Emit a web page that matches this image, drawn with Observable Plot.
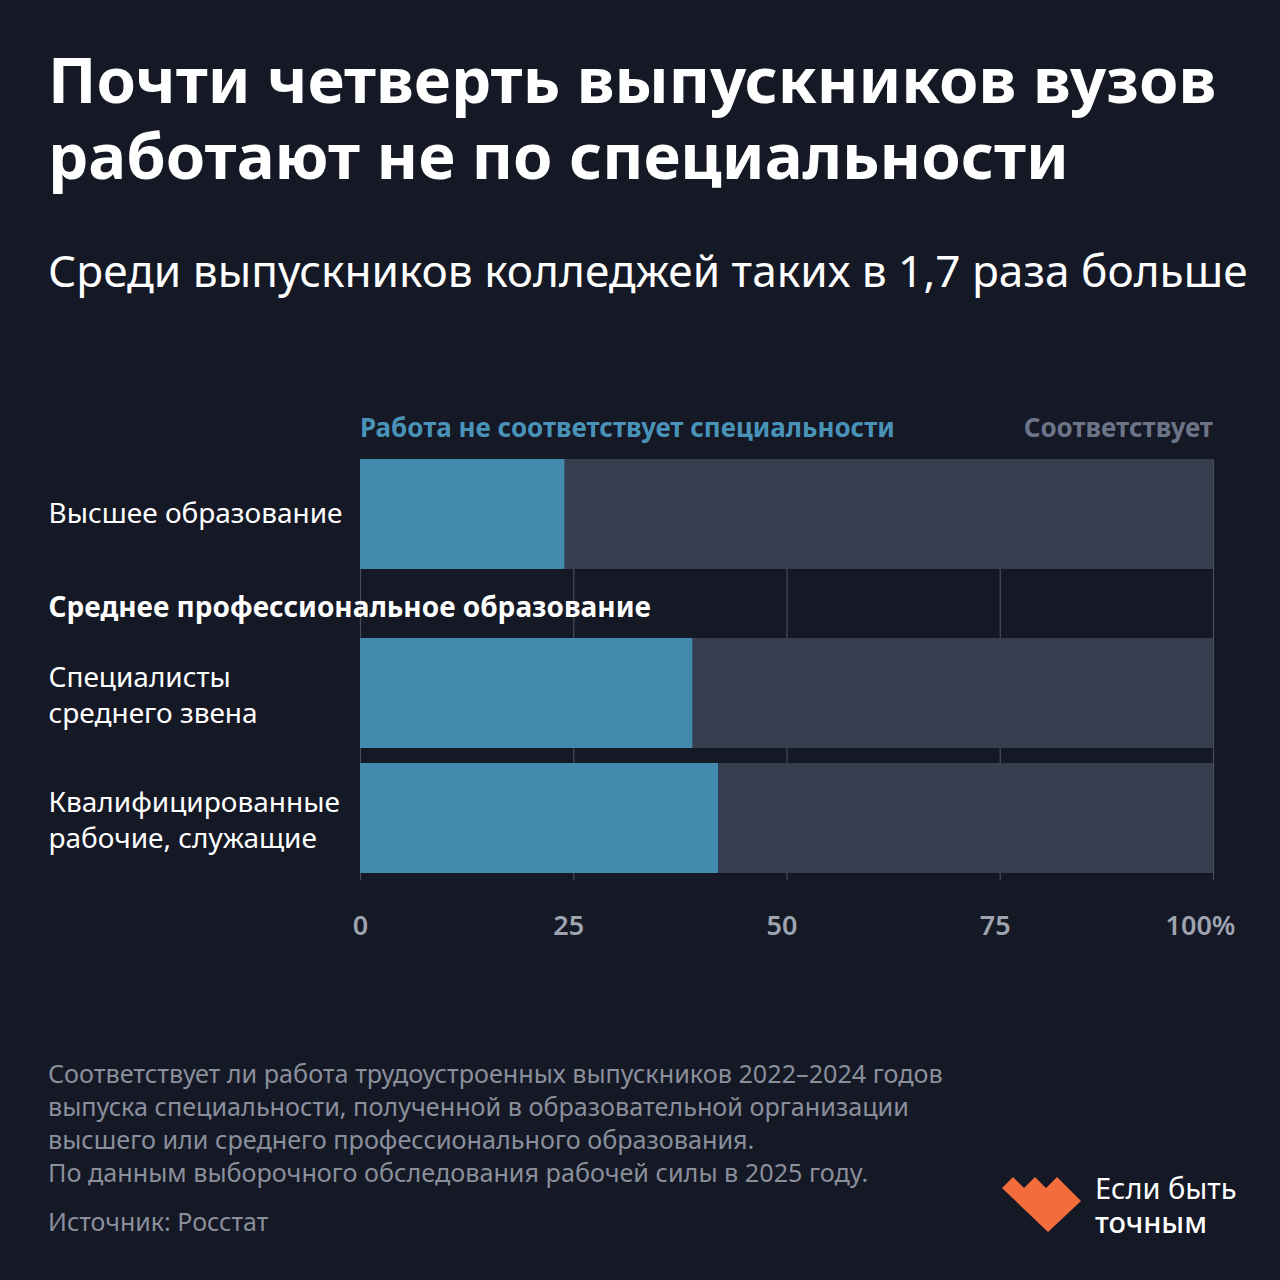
<!DOCTYPE html>
<html>
<head>
<meta charset="utf-8">
<script src="https://cdn.jsdelivr.net/npm/d3@7"></script>
<script src="https://cdn.jsdelivr.net/npm/@observablehq/plot@0.6"></script>
<style>
  html, body { margin: 0; padding: 0; background: #151825; }
  #page { position: relative; width: 1280px; height: 1280px; background: #151825; overflow: hidden;
          font-family: "Noto Sans", "Open Sans", sans-serif; color: #ffffff; }
  .abs { position: absolute; }
  #title { left: 48px; top: 41px; font-size: 63.5px; font-weight: 700; line-height: 76px; white-space: nowrap; }
  #subtitle { left: 48px; top: 240px; font-size: 44.2px; font-weight: 400; line-height: 60px; white-space: nowrap; }
  #legend { left: 360px; width: 853px; top: 409px; height: 36px; display: flex; justify-content: space-between;
            font-size: 26px; font-weight: 700; line-height: 36px; }
  #chartA { left: 0; top: 459px; }
  #chartB { left: 0; top: 638px; }
  #note { left: 48px; top: 1057px; font-size: 25.2px; line-height: 33px; color: #8a8f9c; white-space: nowrap; }
  #source { left: 48px; top: 1205px; font-size: 25px; line-height: 33px; color: #8a8f9c; }
  #logoText { left: 1095px; top: 1171px; font-size: 29px; line-height: 34px; color: #ffffff; }
  #logo { left: 0; top: 0; }
</style>
</head>
<body>
<div id="page">
  <div id="title" class="abs">Почти четверть выпускников вузов<br>работают не по специальности</div>
  <div id="subtitle" class="abs">Среди выпускников колледжей таких в 1,7 раза больше</div>
  <div id="legend" class="abs"></div>
  <div id="chartA" class="abs"></div>
  <div id="chartB" class="abs"></div>
  <div id="note" class="abs">Соответствует ли работа трудоустроенных выпускников 2022–2024 годов<br>выпуска специальности, полученной в образовательной организации<br>высшего или среднего профессионального образования.<br>По данным выборочного обследования рабочей силы в 2025 году.</div>
  <div id="source" class="abs">Источник: Росстат</div>
  <svg id="logo" class="abs" width="1280" height="1280" viewBox="0 0 1280 1280">
    <path d="M1002,1188 L1013,1177 L1024,1188 L1035,1177 L1046,1188 L1057,1177 L1081,1201 L1048,1232 Z" fill="#f26c3c"/>
  </svg>
  <div id="logoText" class="abs">Если быть<br><span style="font-weight:500">точным</span></div>
</div>
<script>
// ---- data ----
const categories = ["Высшее образование", "Специалисты\nсреднего звена", "Квалифицированные\nрабочие, служащие"];
const groups = ["Высшее образование", "Среднее профессиональное образование", "Среднее профессиональное образование"];
const mismatch = [24, 39, 42];   // % работа не соответствует специальности
const match = [76, 61, 58];      // % соответствует
const seriesNames = ["Работа не соответствует специальности", "Соответствует"];
const xTicks = [0, 25, 50, 75, 100];

// ---- style constants ----
const W = 1280, ML = 360, MR = 1280 - 1213, LABEL_X = 48;
const BLUE = "#438bae", GRAY = "#363e4f", GRID = "#474d5b";
const LEGEND_COLORS = ["#4a93b8", "#6c7487"];
const TICK_COLOR = "#9ea3b0";
const FONT = '"Noto Sans", "Open Sans", sans-serif';

// legend
const legend = document.getElementById("legend");
seriesNames.forEach((n, i) => {
  const s = document.createElement("span");
  s.textContent = n; s.style.color = LEGEND_COLORS[i];
  legend.appendChild(s);
});

// long table
const rows = [];
categories.forEach((c, i) => {
  rows.push({category: c, group: groups[i], series: seriesNames[0], value: mismatch[i]});
  rows.push({category: c, group: groups[i], series: seriesNames[1], value: match[i]});
});

const colorScale = {domain: seriesNames, range: [BLUE, GRAY]};
const groupNames = [...new Set(groups)];

function barsFor(groupName) {
  const data = rows.filter(d => d.group === groupName);
  return Plot.barX(data, Plot.stackX({x: "value", y: "category", fill: "series", order: seriesNames}));
}
const yLabels = (extra) => Plot.axisY({tickSize: 0, tickPadding: 0, textAnchor: "start", dx: LABEL_X - ML,
  fontSize: 28, fill: "#ffffff", lineHeight: 1.27, label: null, ...extra});

// Chart A: first group + header of the second group
const cats1 = categories.filter((c, i) => groups[i] === groupNames[0]);
const chartA = Plot.plot({
  width: W, height: 179,
  marginLeft: ML, marginRight: MR, marginTop: 0, marginBottom: 0,
  style: {background: "transparent", fontFamily: FONT, color: "#ffffff", overflow: "visible"},
  x: {domain: [0, 100], axis: null},
  y: {type: "band", domain: cats1, range: [0, 110], padding: 0, axis: null},
  color: colorScale,
  marks: [
    Plot.ruleX(xTicks, {stroke: GRID, strokeWidth: 1.2}),
    barsFor(groupNames[0]),
    yLabels({dy: -3}),
    Plot.text([groupNames[1]], {text: d => d, frameAnchor: "bottom-left", dx: LABEL_X - ML, dy: -22,
      textAnchor: "start", fontSize: 28, fontWeight: 700, fill: "#ffffff"})
  ]
});
document.getElementById("chartA").appendChild(chartA);

// Chart B: second group with x axis
const cats2 = categories.filter((c, i) => groups[i] === groupNames[1]);
const tickText = {tickSize: 0, tickPadding: 0, dy: 35, fontSize: 27, fontWeight: 600, fill: TICK_COLOR, label: null};
const chartB = Plot.plot({
  width: W, height: 320,
  marginLeft: ML, marginRight: MR, marginTop: 0, marginBottom: 78,
  style: {background: "transparent", fontFamily: FONT, color: "#ffffff", overflow: "visible"},
  x: {domain: [0, 100], axis: null},
  y: {type: "band", domain: cats2, range: [0, 235], paddingInner: 15 / 125, paddingOuter: 0, axis: null},
  color: colorScale,
  marks: [
    Plot.ruleX(xTicks, {stroke: GRID, strokeWidth: 1.2}),
    barsFor(groupNames[1]),
    yLabels({}),
    Plot.axisX(xTicks.slice(0, 1), {...tickText}),
    Plot.axisX(xTicks.slice(1, -1), {...tickText, dx: -5}),
    Plot.axisX(xTicks.slice(-1), {...tickText, dx: -13, tickFormat: d => d + "%"})
  ]
});
document.getElementById("chartB").appendChild(chartB);
</script>
</body>
</html>
